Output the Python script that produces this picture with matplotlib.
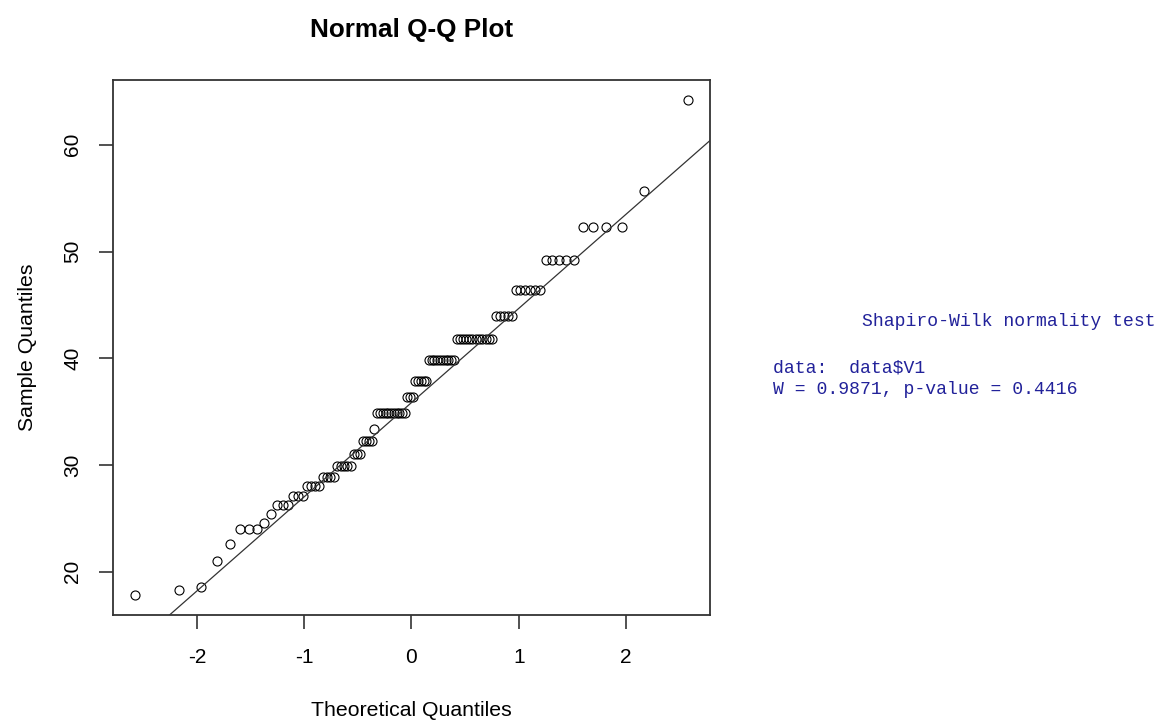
import numpy as np
import matplotlib
matplotlib.use('Agg')
import matplotlib.pyplot as plt
from statistics import NormalDist

# sample values (sorted), with how many points share each value
sample_vals = [17.8, 18.3, 18.6, 21.0, 22.6, 24.0, 24.6, 25.4, 26.3, 27.1,
               28.0, 28.9, 29.9, 31.0, 32.3, 33.4, 34.9, 36.4, 37.9, 39.8,
               41.8, 44.0, 46.4, 49.2, 52.3, 55.7, 64.2]
sample_counts = [1, 1, 1, 1, 1, 3, 1, 1, 3, 3,
                 4, 4, 5, 3, 4, 1, 11, 3, 5, 10,
                 12, 5, 6, 5, 4, 1, 1]
test_lines = ['Shapiro-Wilk normality test', 'data:  data$V1', 'W = 0.9871, p-value = 0.4416']

y = np.repeat(sample_vals, sample_counts)
n = len(y)
# theoretical quantiles, as qqnorm does (ppoints)
x = np.array([NormalDist().inv_cdf((i - 0.5) / n) for i in range(1, n + 1)])

# qqline through the quartiles
q1, q3 = np.quantile(y, [0.25, 0.75])
z1, z3 = NormalDist().inv_cdf(0.25), NormalDist().inv_cdf(0.75)
slope = (q3 - q1) / (z3 - z1)
icpt = q1 - slope * z1

plt.rcParams['font.family'] = ['Liberation Sans', 'DejaVu Sans']
plt.rcParams['axes.unicode_minus'] = False
fig = plt.figure(figsize=(11.59, 7.22), dpi=100)
ax = fig.add_axes([0.0975, 0.148, 0.515, 0.741])

ax.plot(x, y, 'o', mfc='none', mec='black', ms=6.5, mew=0.8)
xlim = (x.min() - 0.04 * np.ptp(x), x.max() + 0.04 * np.ptp(x))
ylim = (y.min() - 0.04 * np.ptp(y), y.max() + 0.04 * np.ptp(y))
xx = np.array(xlim)
ax.plot(xx, icpt + slope * xx, color='#333333', lw=0.9)
ax.set_xlim(xlim)
ax.set_ylim(ylim)

ax.set_xticks([-2, -1, 0, 1, 2])
ax.set_yticks([20, 30, 40, 50, 60])
ax.tick_params(length=10, width=1.2, color='#333333', labelsize=15)
ax.tick_params(axis='x', pad=14)
ax.tick_params(axis='y', pad=12)
for lab in ax.get_yticklabels():
    lab.set_rotation(90)
    lab.set_va('center')
for s in ax.spines.values():
    s.set_linewidth(1.3)
    s.set_color('#333333')

ax.set_title('Normal Q-Q Plot', fontsize=18.8, fontweight='bold', pad=31)
ax.set_xlabel('Theoretical Quantiles', fontsize=15.3, labelpad=24)
ax.set_ylabel('Sample Quantiles', fontsize=15.3, labelpad=19)

fig.text(862 / 1159, 1 - 322 / 722, test_lines[0], family='Liberation Mono',
         fontsize=13.1, color='#22229a', va='center')
fig.text(773 / 1159, 1 - 368 / 722, test_lines[1], family='Liberation Mono',
         fontsize=13.1, color='#22229a', va='center')
fig.text(773 / 1159, 1 - 389 / 722, test_lines[2], family='Liberation Mono',
         fontsize=13.1, color='#22229a', va='center')

fig.savefig('out.png', dpi=100)
